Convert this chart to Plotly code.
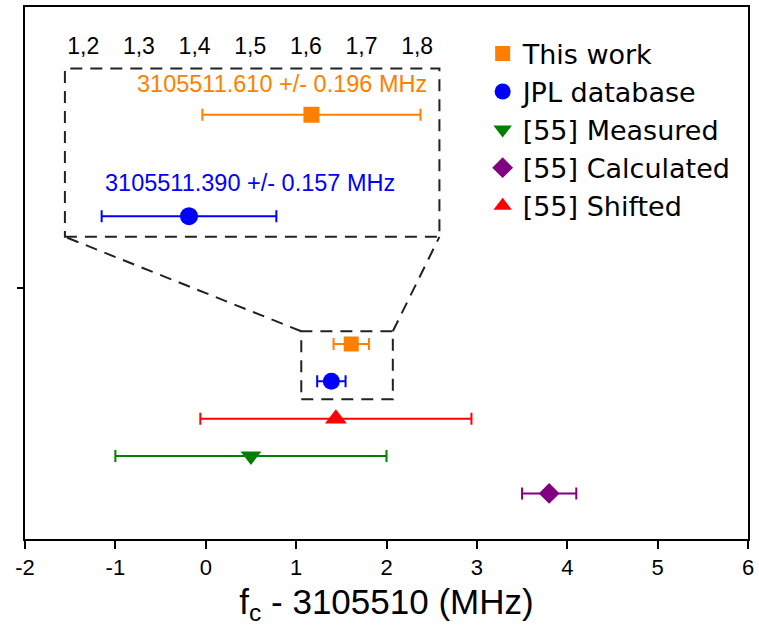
import plotly.graph_objects as go

# ---- data ----
names = ["This work", "JPL database", "[55] Measured", "[55] Calculated", "[55] Shifted"]
centers = [1.61, 1.39, 0.50, 3.80, 1.44]          # fc - 3105510 (MHz)
errors = [0.196, 0.157, 1.50, 0.30, 1.50]
rows = [5, 4, 2, 1, 3]
colors = ["#FF7F00", "#0000FF", "#007F00", "#800080", "#FF0000"]
symbols = ["square", "circle", "triangle-down", "diamond", "triangle-up"]
sizes = [15, 17, 18, 16, 19]

inset_labels = ["3105511.610 +/- 0.196 MHz", "3105511.390 +/- 0.157 MHz"]
inset_ticks = [1.2, 1.3, 1.4, 1.5, 1.6, 1.7, 1.8]
inset_ticktext = ["1,2", "1,3", "1,4", "1,5", "1,6", "1,7", "1,8"]
main_ticks = [-2, -1, 0, 1, 2, 3, 4, 5, 6]
main_ticktext = ["-2", "-1", "0", "1", "2", "3", "4", "5", "6"]

# ---- layout config ----
XR = [-2, 6]
YR = [-0.22, 14.02]
XR2 = [1.167, 1.84]
YR2 = [3.796, 5.458]
INSET_DOM_X = [0.0552, 0.5732]
INSET_DOM_Y = [0.568, 0.8845]
ZOOM_X = [1.057, 2.07]
ZOOM_Y = [3.52, 5.34]

fig = go.Figure()

for i in range(len(names)):
    fig.add_trace(go.Scatter(
        x=[centers[i]], y=[rows[i]], mode="markers", name=names[i],
        legendgroup=names[i],
        marker=dict(symbol=symbols[i], size=sizes[i], color=colors[i], line=dict(width=0)),
        error_x=dict(type="data", array=[errors[i]], color=colors[i], thickness=2, width=6),
        xaxis="x", yaxis="y"))

# inset traces (This work, JPL)
inset_sizes = [16, 18]
for i in range(2):
    fig.add_trace(go.Scatter(
        x=[centers[i]], y=[rows[i]], mode="markers", showlegend=False,
        marker=dict(symbol=symbols[i], size=inset_sizes[i], color=colors[i], line=dict(width=0)),
        error_x=dict(type="data", array=[errors[i]], color=colors[i], thickness=2, width=6),
        xaxis="x2", yaxis="y2"))

# inset annotations
fig.add_annotation(x=1.557, y=rows[0] + 0.30, xref="x2", yref="y2", text=inset_labels[0],
                   showarrow=False, font=dict(family="Liberation Sans, Arial", size=23.5, color=colors[0]))
fig.add_annotation(x=1.499, y=rows[1] + 0.33, xref="x2", yref="y2", text=inset_labels[1],
                   showarrow=False, font=dict(family="Liberation Sans, Arial", size=23.5, color=colors[1]))

dash = "12px,8px"
lc = "#222222"
# inset border
fig.add_shape(type="rect", xref="paper", yref="paper",
              x0=INSET_DOM_X[0], x1=INSET_DOM_X[1], y0=INSET_DOM_Y[0], y1=INSET_DOM_Y[1],
              line=dict(color=lc, width=2, dash=dash))
# zoom box in main axes
fig.add_shape(type="rect", xref="x", yref="y", x0=ZOOM_X[0], x1=ZOOM_X[1], y0=ZOOM_Y[0], y1=ZOOM_Y[1],
              line=dict(color=lc, width=2, dash=dash))

def px(x):
    return (x - XR[0]) / (XR[1] - XR[0])

def py(y):
    return (y - YR[0]) / (YR[1] - YR[0])

fig.add_shape(type="line", xref="paper", yref="paper",
              x0=px(ZOOM_X[0]), y0=py(ZOOM_Y[1]), x1=INSET_DOM_X[0], y1=INSET_DOM_Y[0],
              line=dict(color=lc, width=2, dash=dash))
fig.add_shape(type="line", xref="paper", yref="paper",
              x0=px(ZOOM_X[1]), y0=py(ZOOM_Y[1]), x1=INSET_DOM_X[1], y1=INSET_DOM_Y[0],
              line=dict(color=lc, width=2, dash=dash))

fig.update_layout(
    width=759, height=636,
    margin=dict(l=25, r=10, t=5, b=97),
    paper_bgcolor="white", plot_bgcolor="white",
    font=dict(family="Liberation Sans, Arial", color="black"),
    xaxis=dict(range=XR, tickvals=main_ticks, ticktext=main_ticktext, ticks="outside", ticklen=8,
               tickwidth=2, tickcolor="black", showline=True, linewidth=2, linecolor="black",
               mirror=True, showgrid=False, zeroline=False, tickfont=dict(size=22),
               title=dict(text="f<sub>c</sub> - 3105510 (MHz)", font=dict(size=35), standoff=10)),
    yaxis=dict(range=YR, tickvals=[6.5], ticks="outside", ticklen=6, tickwidth=2, tickcolor="black",
               showticklabels=False, showline=True, linewidth=2, linecolor="black", mirror=True,
               showgrid=False, zeroline=False),
    xaxis2=dict(domain=INSET_DOM_X, range=XR2, anchor="y2", side="top",
                tickvals=inset_ticks, ticktext=inset_ticktext, ticks="", showline=False,
                showgrid=False, zeroline=False, ticklabelstandoff=9,
                tickfont=dict(size=23)),
    yaxis2=dict(domain=INSET_DOM_Y, range=YR2, anchor="x2", visible=False),
    legend=dict(x=0.633, y=0.958, xanchor="left", yanchor="top", bgcolor="rgba(0,0,0,0)",
                font=dict(family="DejaVu Sans", size=27), itemsizing="trace",
                tracegroupgap=0, traceorder="normal"),
    showlegend=True,
)

fig.write_html("out.html")
